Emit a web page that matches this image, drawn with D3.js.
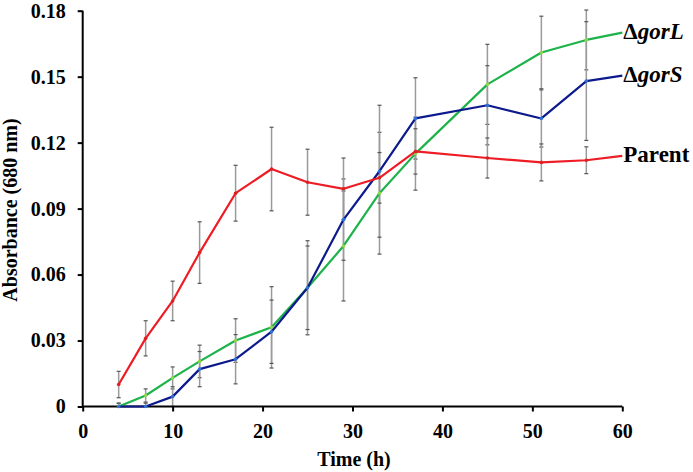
<!DOCTYPE html>
<html>
<head>
<meta charset="utf-8">
<script src="https://cdn.jsdelivr.net/npm/d3@7"></script>
<style>
  html, body { margin: 0; padding: 0; background: #fff; }
  svg { display: block; }
</style>
</head>
<body>
<svg id="chart" width="693" height="472"></svg>
<script>
const times = [4, 7, 10, 13, 17, 21, 25, 29, 33, 37, 45, 51, 56, 60];
const parent = [0.010, 0.031, 0.048, 0.070, 0.097, 0.108, 0.102, 0.099, 0.104, 0.116, 0.113, 0.111, 0.112, 0.114];
const parentErr = [0.006, 0.008, 0.009, 0.014, 0.0127, 0.019, 0.015, 0.014, 0.0115, 0.0103, 0.0091, 0.0084, 0.0061, null];
const gorS = [0.000, 0.000, 0.0045, 0.017, 0.0215, 0.034, 0.054, 0.085, 0.107, 0.131, 0.137, 0.131, 0.148, 0.1505];
const gorSErr = [0.0015, 0.0015, 0.0045, 0.008, 0.0112, 0.0144, 0.019, 0.0185, 0.030, 0.0185, 0.018, 0.013, 0.027, null];
const gorL = [0.000, 0.005, 0.013, 0.0205, 0.030, 0.036, 0.054, 0.073, 0.097, 0.115, 0.1465, 0.161, 0.1667, 0.170];
const gorLErr = [0.0015, 0.003, 0.005, 0.0074, 0.0099, 0.0185, 0.0214, 0.025, 0.0277, 0.0166, 0.0182, 0.0165, 0.0136, null];
const xTicks = [0, 10, 20, 30, 40, 50, 60];
const yTicks = [0, 0.03, 0.06, 0.09, 0.12, 0.15, 0.18];
const yTickLabels = ["0", "0.03", "0.06", "0.09", "0.12", "0.15", "0.18"];
const seriesNames = ["gorL", "gorS", "Parent"];

const FONT = '"Liberation Serif"';

const series = [
  { name: seriesNames[0], values: gorL, err: gorLErr, color: "#1db34a", dot: "#8fd64a", delta: true },
  { name: seriesNames[1], values: gorS, err: gorSErr, color: "#0c1a8c", dot: "#2f6fd8", delta: true },
  { name: seriesNames[2], values: parent, err: parentErr, color: "#ee1c24", dot: "#e02020", delta: false }
];

const svg = d3.select("#chart");
const x = d3.scaleLinear().domain([0, 60]).range([82.7, 622.3]);
const y = d3.scaleLinear().domain([0, 0.18]).range([406.5, 10.7]);

// Error bars
const errG = svg.append("g");
series.forEach(s => {
  times.forEach((t, i) => {
    const e = s.err[i];
    if (e == null) return;
    const cx = x(t), y1 = y(s.values[i] + e), y2 = y(Math.max(0, s.values[i] - e));
    errG.append("line").attr("x1", cx).attr("x2", cx).attr("y1", y1).attr("y2", y2)
      .attr("stroke", "#9a9a9a").attr("stroke-width", 1.5);
    [y1, y2].forEach(yy => errG.append("line").attr("x1", cx - 2).attr("x2", cx + 2)
      .attr("y1", yy).attr("y2", yy).attr("stroke", "#555").attr("stroke-width", 1.2));
  });
});

// Axes
const yAxis = d3.axisLeft(y).tickValues(yTicks).tickFormat((d, i) => yTickLabels[i]).tickSize(5).tickPadding(12);
const gy = svg.append("g").attr("transform", `translate(${x(0)},0)`).call(yAxis);
const xAxis = d3.axisBottom(x).tickValues(xTicks).tickFormat(d3.format("d")).tickSize(5).tickPadding(12);
const gx = svg.append("g").attr("transform", `translate(0,${y(0)})`).call(xAxis);
[gx, gy].forEach(g => {
  g.select(".domain").attr("stroke", "#000").attr("stroke-width", 2);
  g.selectAll(".tick line").attr("stroke", "#000").attr("stroke-width", 2);
  g.selectAll(".tick text").attr("fill", "#000")
    .style("font-family", FONT).style("font-weight", "bold").style("font-size", "20px");
});
gy.select(".domain").attr("d", `M0,${y(0.18)}V${y(0)}`);
gx.select(".domain").attr("d", `M${x(0)},0H${x(60)}`);

// Lines
const line = d3.line().x((d, i) => x(times[i])).y(d => y(d));
series.forEach(s => {
  svg.append("path").datum(s.values).attr("d", line)
    .attr("fill", "none").attr("stroke", s.color).attr("stroke-width", 2.2).attr("stroke-linejoin", "round");
  svg.append("g").selectAll("circle").data(s.values.slice(0, -1)).join("circle")
    .attr("cx", (d, i) => x(times[i])).attr("cy", d => y(d)).attr("r", 1.8).attr("fill", s.dot);
});

// Series labels
series.forEach(s => {
  const last = s.values[s.values.length - 1];
  const t = svg.append("text").attr("x", x(60) + 1).attr("y", y(last) + 6.5)
    .style("font-family", FONT).style("font-weight", "bold")
    .style("font-size", "23px").attr("fill", "#000");
  if (s.delta) {
    t.append("tspan").text("\u0394");
    t.append("tspan").style("font-style", "italic").text(s.name);
  } else {
    t.text(s.name);
  }
});

// Axis titles
svg.append("text").attr("x", 354).attr("y", 466).attr("text-anchor", "middle")
  .style("font-family", FONT).style("font-weight", "bold")
  .style("font-size", "20px").text("Time (h)");
svg.append("text").attr("transform", "translate(17,210) rotate(-90)").attr("text-anchor", "middle")
  .style("font-family", FONT).style("font-weight", "bold")
  .style("font-size", "20px").text("Absorbance (680 nm)");
</script>
</body>
</html>
